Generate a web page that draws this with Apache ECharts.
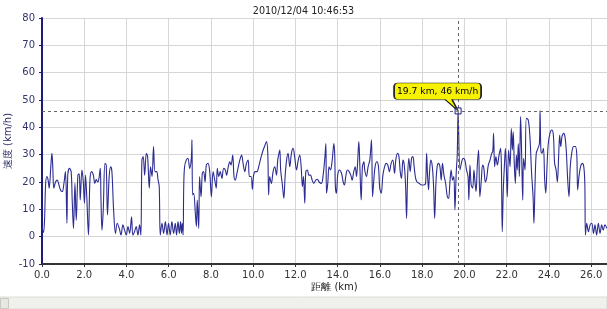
<!DOCTYPE html>
<html>
<head>
<meta charset="utf-8">
<style>
  html, body { margin: 0; padding: 0; background: #fff; }
  #chart { width: 607px; height: 309px; }
</style>
<script src="https://cdn.jsdelivr.net/npm/echarts@6/dist/echarts.min.js"></script>
</head>
<body>
<div id="chart"></div>
<script>
// ---- data ----
const chartTitle = '2010/12/04 10:46:53';
const xName = '距離 (km)';
const yName = '速度 (km/h)';
const peakKm = 19.7;
const peakSpeed = 46;

const distanceKm = [
  0.00,0.07,0.12,0.17,0.23,0.29,0.34,0.42,0.47,0.51,
  0.56,0.64,0.72,0.80,0.88,0.96,1.03,1.11,1.18,1.22,
  1.30,1.38,1.43,1.49,1.56,1.62,1.70,1.76,1.81,1.89,
  1.95,2.01,2.06,2.12,2.20,2.27,2.35,2.43,2.50,2.57,
  2.63,2.69,2.76,2.79,2.84,2.90,2.98,3.04,3.10,3.18,
  3.25,3.31,3.39,3.48,3.56,3.66,3.74,3.83,3.91,3.99,
  4.07,4.15,4.24,4.30,4.38,4.46,4.54,4.62,4.68,4.73,
  4.79,4.86,4.94,5.00,5.08,5.14,5.21,5.28,5.35,5.43,
  5.49,5.55,5.60,5.68,5.76,5.84,5.92,5.99,6.07,6.15,
  6.23,6.31,6.37,6.44,6.50,6.56,6.60,6.64,6.68,6.71,
  6.75,6.83,6.91,6.99,7.07,7.10,7.13,7.18,7.26,7.31,
  7.35,7.42,7.46,7.53,7.59,7.65,7.72,7.78,7.86,7.94,
  8.02,8.10,8.18,8.25,8.30,8.37,8.44,8.52,8.60,8.68,
  8.74,8.82,8.89,8.95,9.03,9.09,9.15,9.23,9.31,9.39,
  9.45,9.52,9.60,9.68,9.76,9.82,9.90,9.96,10.02,10.10,
  10.18,10.26,10.36,10.47,10.56,10.63,10.69,10.73,10.78,10.86,
  10.94,11.02,11.10,11.16,11.22,11.26,11.30,11.38,11.45,11.51,
  11.58,11.65,11.73,11.81,11.89,11.97,12.05,12.13,12.20,12.27,
  12.33,12.38,12.44,12.49,12.57,12.63,12.71,12.79,12.87,12.96,
  13.04,13.12,13.23,13.31,13.39,13.44,13.47,13.53,13.59,13.66,
  13.74,13.82,13.86,13.89,13.94,14.00,14.08,14.18,14.26,14.32,
  14.38,14.46,14.54,14.62,14.68,14.76,14.83,14.89,14.94,15.00,
  15.05,15.11,15.17,15.24,15.28,15.36,15.44,15.52,15.60,15.65,
  15.71,15.77,15.85,15.93,15.99,16.06,16.14,16.22,16.29,16.37,
  16.45,16.53,16.61,16.69,16.75,16.83,16.90,16.96,17.02,17.09,
  17.15,17.21,17.26,17.31,17.37,17.43,17.50,17.56,17.62,17.69,
  17.76,17.86,17.97,18.08,18.16,18.21,18.25,18.30,18.35,18.41,
  18.48,18.54,18.59,18.65,18.71,18.77,18.84,18.90,18.96,19.03,
  19.11,19.19,19.25,19.31,19.37,19.44,19.50,19.55,19.61,19.66,
  19.70,19.79,19.87,19.94,20.02,20.10,20.17,20.21,20.26,20.32,
  20.39,20.45,20.50,20.55,20.61,20.67,20.73,20.80,20.86,20.92,
  20.99,21.05,21.13,21.21,21.29,21.34,21.38,21.43,21.49,21.56,
  21.64,21.71,21.75,21.79,21.84,21.89,21.94,21.98,22.03,22.09,
  22.16,22.22,22.27,22.31,22.36,22.41,22.46,22.50,22.55,22.60,
  22.63,22.66,22.71,22.76,22.80,22.87,22.93,23.02,23.10,23.18,
  23.25,23.29,23.34,23.40,23.48,23.55,23.58,23.62,23.67,23.74,
  23.80,23.85,23.91,23.97,24.05,24.13,24.21,24.27,24.34,24.40,
  24.46,24.51,24.56,24.62,24.70,24.76,24.82,24.89,24.95,25.01,
  25.09,25.17,25.25,25.32,25.36,25.43,25.50,25.58,25.65,25.70,
  25.73,25.79,25.87,25.95,26.03,26.11,26.18,26.26,26.34,26.42,
  26.50,26.57,26.65,26.75
];

const speedKmh = [
  3.7,1.5,6,19,22,20.7,17.7,26,30.5,25.6,
  17.7,20,20.7,19,17,16.5,19,23.8,4.9,22.5,
  25,23.8,13.4,3,19.5,6,22.5,23,13.4,24.4,
  20.7,12.2,22.5,14.6,0.6,20.7,23.8,22.5,19.5,21,
  20,21,25,14.6,2.4,9.8,26.8,26.2,7.9,22,
  25.6,23.8,9.8,1.2,4.9,3,0.6,4.3,2.4,0.6,
  3.7,1.2,7.3,0.6,1.8,3.7,0.6,4.3,0.6,28,
  29.3,22.5,30.5,29.3,17.7,25.6,22,33,23.8,23.8,
  21,18.3,0.6,4.9,1.2,5.5,0.6,4.9,0.6,5.5,
  1.2,4.9,0.6,5.5,1.2,5.5,1.2,4.9,0.6,18.3,
  25.6,28,28.7,25,28.7,35.4,15.3,15.9,8.5,3.7,
  13.4,3,22,14.6,23.2,23.8,20,26.2,26.8,23.8,
  14.6,23.8,20.7,17.7,25,22,23.8,21.3,25,24.4,
  22.5,25.6,27.4,26.2,29.9,22,20.7,23.2,26.2,28.7,
  29.9,26.8,23.8,26.8,28,22,22,17.3,22.5,23.8,
  23.8,25.6,28.7,31.7,33.5,34.8,30.5,15.3,22,19.5,
  23.8,25.6,22.5,28,30.5,31.7,24.4,19,14,22,
  28,30.5,25.6,30.5,32.3,28.7,24.4,28,29.9,25.6,
  18.3,22,12.2,23.8,24.4,22.5,22.5,20.7,19.5,20.7,
  21,20,19.5,22.5,28.7,34.1,15.9,19.5,25.6,24.4,
  28,34.1,29.9,18.3,15.9,22.5,24.4,23.2,20,18.9,
  22,24.4,23.8,22.5,20.7,23.8,25.6,22,26.8,34.8,
  25.6,13.4,25.6,27.4,24.4,22,25.6,28,35.4,14.6,
  20.7,25.6,27.4,25.6,17.7,15.9,22.5,25.6,26.8,26.2,
  23.8,26.8,28,23.2,28,30.5,29.3,23.8,21.3,28,
  26.2,19.5,6.7,22,28.7,23.8,28.7,29.3,25.6,21.3,
  20,19.5,18.9,18.9,19.5,30.5,23.2,17.1,23.8,28,
  25.6,18.3,6.7,19.5,25.6,26.8,25.6,20.7,26.8,22.5,
  19.5,14.6,14,19.5,24.4,20.7,22,9.8,23.2,30,
  46,24.4,27.4,28.7,28,24.4,22,13.4,26.2,18.9,
  17.7,24.4,20,16.5,26.2,31.7,14.6,20.7,26.2,25,
  20,21.3,26.2,28,30.5,31.1,37.8,25.6,29.3,26.2,
  29.9,32.3,25.6,1.8,17.1,25.6,32.3,26.2,14.6,31.7,
  25.6,39.6,31.7,38.4,26.8,19.5,29.9,24.4,34.1,22,
  33,43.9,29.9,13.4,28.7,24.4,43.3,42.7,36.6,23.2,
  14.6,4.9,18.3,30.5,32.3,34.1,46.1,31.7,30.5,32.3,
  20.7,15.9,25.6,34.1,37.8,39,37.2,26.8,24.4,20,
  29.3,37.2,33,36.6,37.8,36.6,31.7,20.7,14.6,25.6,
  31.1,33,33,29.9,17.1,22.5,25.6,26.8,25.6,19.5,
  0.6,4.9,1.8,4.3,4.9,1.2,4.3,0.6,4.9,1.2,
  4.3,2.4,4.3,3
];

if (distanceKm.length !== speedKmh.length) {
  console.error('length mismatch', distanceKm.length, speedKmh.length);
}

const points = distanceKm.map((d, i) => [d, speedKmh[i]]);

const FONT = 'DejaVu Sans';
const calloutPath = 'path://M4,0 H83 Q87,0 87,4 V12.5 Q87,16.5 83,16.5 H58 L64,28 L51,16.5 H4 Q0,16.5 0,12.5 V4 Q0,0 4,0 Z';

const chart = echarts.init(document.getElementById('chart'), null, { renderer: 'canvas' });

chart.setOption({
  animation: false,
  backgroundColor: '#ffffff',
  title: {
    text: chartTitle,
    left: 'center',
    top: 1,
    textStyle: { fontFamily: FONT, fontSize: 9.6, fontWeight: 'normal', color: '#222' }
  },
  grid: { left: 42, right: 0, top: 18, bottom: 45, outerBoundsMode: 'none' },
  xAxis: {
    type: 'value',
    min: 0,
    max: 26.75,
    interval: 2,
    name: xName,
    nameLocation: 'middle',
    nameGap: 18,
    nameMoveOverlap: false,
    nameTextStyle: { fontFamily: FONT, fontSize: 10, color: '#222', padding: [0, 0, 0, 20] },
    axisLine: { show: true, onZero: false, lineStyle: { color: '#333', width: 2 } },
    axisTick: { show: true, length: 3, lineStyle: { color: '#333' } },
    axisLabel: {
      fontFamily: FONT, fontSize: 10, color: '#333', margin: 6,
      showMaxLabel: false,
      formatter: v => v.toFixed(1)
    },
    splitLine: { show: true, lineStyle: { color: '#d6d6d6', width: 1 } }
  },
  yAxis: {
    type: 'value',
    min: -10,
    max: 80,
    interval: 10,
    name: yName,
    nameLocation: 'middle',
    nameGap: 29,
    nameMoveOverlap: false,
    nameTextStyle: { fontFamily: FONT, fontSize: 10, color: '#2a2a66' },
    axisLine: { show: true, onZero: false, lineStyle: { color: '#1c1c80', width: 2 } },
    axisTick: { show: true, length: 3, lineStyle: { color: '#1c1c80' } },
    axisLabel: { fontFamily: FONT, fontSize: 10, color: '#33336e', margin: 7 },
    splitLine: { show: true, lineStyle: { color: '#d6d6d6', width: 1 } }
  },
  graphic: [
    { type: 'rect', shape: { x: 0, y: 297, width: 607, height: 12 },
      style: { fill: '#f0f0ec', stroke: '#dcdcd6', lineWidth: 1 }, z: 0 },
    { type: 'rect', shape: { x: 0.5, y: 298.5, width: 8, height: 10 },
      style: { fill: '#e8e8e2', stroke: '#c8c8c2', lineWidth: 1 }, z: 1 }
  ],
  series: [{
    type: 'line',
    data: points,
    smooth: 0.35,
    showSymbol: false,
    symbol: 'none',
    lineStyle: { color: '#2c2c92', width: 1.1 },
    markLine: {
      silent: true,
      symbol: ['none', 'none'],
      label: { show: false },
      lineStyle: { color: '#666', type: [3, 3], width: 1 },
      data: [{ xAxis: peakKm }, { yAxis: peakSpeed }]
    },
    markPoint: {
      silent: true,
      data: [
        {
          coord: [peakKm, peakSpeed],
          symbol: calloutPath,
          symbolSize: [87, 28],
          symbolKeepAspect: false,
          symbolOffset: [-20.5, -14],
          itemStyle: { color: '#f7f200', borderColor: '#222', borderWidth: 1 },
          label: {
            show: true,
            position: 'inside',
            offset: [0, -5.5],
            formatter: peakKm + ' km, ' + peakSpeed + ' km/h',
            fontFamily: FONT, fontSize: 9.2, color: '#000'
          }
        },
        {
          coord: [peakKm, peakSpeed],
          symbol: 'rect',
          symbolSize: 6,
          itemStyle: { color: 'rgba(255,255,255,0.2)', borderColor: '#1c1c80', borderWidth: 1 },
          label: { show: false }
        }
      ]
    }
  }]
});
</script>
</body>
</html>
